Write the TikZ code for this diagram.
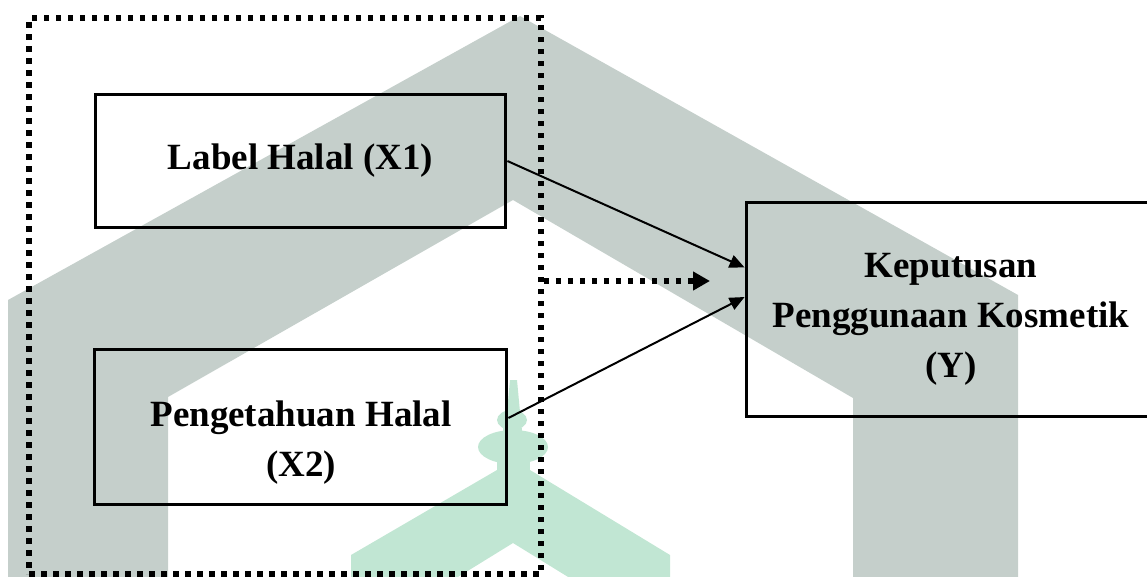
\documentclass[tikz,border=0pt]{standalone}
\usepackage{fontspec}
\setmainfont{Liberation Serif}
\usetikzlibrary{arrows.meta}
\definecolor{wmgray}{RGB}{197,207,203}
\definecolor{wmgreen}{RGB}{193,230,211}
\begin{document}
\begin{tikzpicture}[x=1pt,y=-1pt,
  box/.style={draw=black, line width=3.8pt, rectangle, inner sep=0pt},
  lbl/.style={font=\fontsize{37}{50}\selectfont\bfseries, align=center, inner sep=0pt},
  grpbox/.style={draw=black, line width=5.5pt, dash pattern=on 5.5pt off 6.5pt, rectangle, inner sep=0pt},
  arr/.style={line width=2pt, -{Triangle[length=15pt,width=13pt]}},
  darr/.style={line width=5.5pt, dash pattern=on 5.5pt off 6.5pt, -{Triangle[length=17pt,width=18pt]}}]
\useasboundingbox (0,0) rectangle (1147,576);
\clip (0,0) rectangle (1147,576);
% watermark
\fill[wmgray] (8,580) -- (8,300) -- (520,16) -- (1018,295) -- (1018,580) -- (853,580)
  -- (853,398) -- (513,200) -- (168,397) -- (168,580) -- cycle;
\fill[wmgreen] (351,580) -- (351,555) -- (497,470) -- (530,470) -- (670,555) -- (670,580)
  -- (573,580) -- (513,543) -- (453,580) -- cycle;
\fill[wmgreen] (513,447) ellipse [x radius=35, y radius=17];
\fill[wmgreen] (497,460) rectangle (530,472);
\fill[wmgreen] (512,420) ellipse [x radius=15, y radius=10];
\fill[wmgreen] (503,428) rectangle (522,436);
\fill[wmgreen] (507,412) -- (510,380) -- (517,380) -- (520,412) -- cycle;
% diagram
\node[grpbox, minimum width=512pt, minimum height=556pt] (grp) at (285,296) {};
\node[box, minimum width=410pt, minimum height=133pt, lbl] (x1) at (300.5,161) {Label Halal (X1)};
\node[box, minimum width=412pt, minimum height=155pt] (x2) at (300.5,427) {};
\node[lbl] (x2t) at (301,442.5) {Pengetahuan Halal\\(X2)};
\node[box, minimum width=409pt, minimum height=214pt] (y) at (951,309.5) {};
\node[lbl] (yt) at (951,319) {Keputusan\\Penggunaan Kosmetik\\(Y)};
\coordinate (dend) at (710,281);
\draw[arr] (x1.east) -- ([yshift=42pt]y.west);
\draw[arr] ([yshift=9pt]x2.east) -- ([yshift=12.5pt]y.west);
\draw[darr] ([yshift=15pt]grp.east) -- (dend);
\end{tikzpicture}
\end{document}
